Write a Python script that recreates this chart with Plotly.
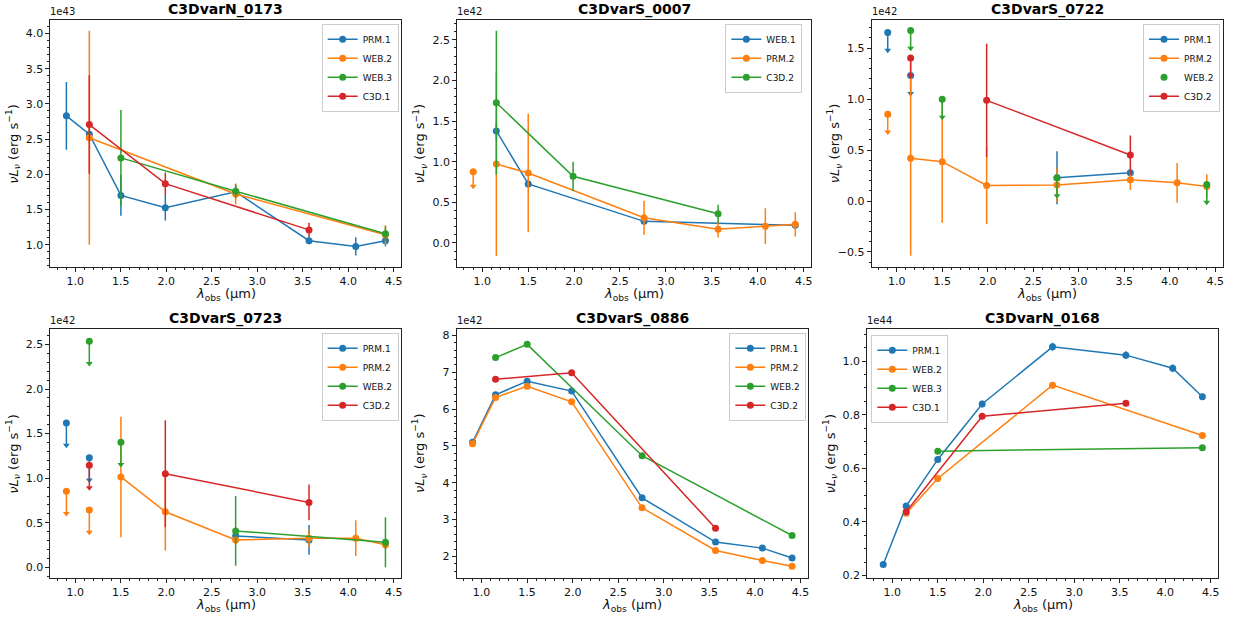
import plotly.graph_objects as go

# NIRCam filter pivot wavelengths (micron)
WAVELENGTH = [0.902, 1.154, 1.501, 1.989, 2.762, 3.568, 4.082, 4.408]
X_RANGE = [0.727, 4.583]

BLUE, ORANGE, GREEN, RED = "#1f77b4", "#ff7f0e", "#2ca02c", "#d62728"

# ---- C3DvarN_0173 (units of 1e43 erg/s) ----
N0173_PRM1 = [2.83, 2.57, 1.70, 1.525, 1.75, 1.056, 0.975, 1.056]
N0173_PRM1_ERR = [0.48, 0.10, 0.29, 0.18, 0.08, 0.05, 0.13, 0.08]
N0173_WEB2 = [None, 2.52, None, None, 1.72, None, None, 1.14]
N0173_WEB2_ERR = [None, 1.52, None, None, 0.15, None, None, 0.14]
N0173_WEB3 = [None, None, 2.233, None, 1.76, None, None, 1.155]
N0173_WEB3_ERR = [None, None, 0.68, None, 0.10, None, None, 0.10]
N0173_C3D1 = [None, 2.706, None, 1.867, None, 1.21, None, None]
N0173_C3D1_ERR = [None, 0.70, None, 0.16, None, 0.10, None, None]

# ---- C3DvarS_0007 (units of 1e42 erg/s) ----
S0007_WEB1 = [None, 1.378, 0.726, None, 0.265, None, None, 0.216]
S0007_WEB1_ERR = [None, 0.10, 0.05, None, 0.03, None, None, 0.03]
S0007_PRM2 = [None, 0.97, 0.86, None, 0.31, 0.167, 0.205, 0.228]
S0007_PRM2_ERR = [None, 1.13, 0.73, None, 0.21, 0.10, 0.22, 0.15]
S0007_PRM2_UL = [0.877, None, None, None, None, None, None, None]
S0007_C3D2 = [None, 1.725, None, 0.82, None, 0.359, None, None]
S0007_C3D2_ERR = [None, 0.885, None, 0.18, None, 0.11, None, None]
S0007_ARROW = 0.18

# ---- C3DvarS_0722 (units of 1e42 erg/s) ----
S0722_PRM1 = [None, None, None, None, 0.227, 0.276, None, None]
S0722_PRM1_ERR = [None, None, None, None, 0.26, 0.03, None, None]
S0722_PRM1_UL = [1.653, 1.23, None, None, None, None, None, None]
S0722_PRM2 = [None, 0.419, 0.386, 0.152, 0.158, 0.208, 0.178, 0.143]
S0722_PRM2_ERR = [None, 0.955, 0.60, 0.38, 0.17, 0.10, 0.195, 0.12]
S0722_PRM2_UL = [0.851, None, None, None, None, None, None, None]
S0722_WEB2_UL = [None, 1.672, 0.997, None, 0.227, None, None, 0.162]
S0722_C3D2 = [None, None, None, 0.987, None, 0.451, None, None]
S0722_C3D2_ERR = [None, None, None, 0.555, None, 0.19, None, None]
S0722_C3D2_UL = [None, 1.403, None, None, None, None, None, None]
S0722_ARROW = 0.175

# ---- C3DvarS_0723 (units of 1e42 erg/s) ----
S0723_PRM1 = [None, None, None, None, 0.353, 0.308, None, None]
S0723_PRM1_ERR = [None, None, None, None, 0.05, 0.167, None, None]
S0723_PRM1_UL = [1.62, 1.23, None, None, None, None, None, None]
S0723_PRM2 = [None, None, 1.014, 0.624, 0.308, 0.327, 0.327, 0.253]
S0723_PRM2_ERR = [None, None, 0.675, 0.435, 0.05, 0.10, 0.20, 0.05]
S0723_PRM2_UL = [0.854, 0.643, None, None, None, None, None, None]
S0723_WEB2 = [None, None, None, None, 0.409, None, None, 0.282]
S0723_WEB2_ERR = [None, None, None, None, 0.39, None, None, 0.28]
S0723_WEB2_UL = [None, 2.537, 1.404, None, None, None, None, None]
S0723_C3D2 = [None, None, None, 1.05, None, 0.728, None, None]
S0723_C3D2_ERR = [None, None, None, 0.60, None, 0.20, None, None]
S0723_C3D2_UL = [None, 1.144, None, None, None, None, None, None]
S0723_ARROW = 0.25

# ---- C3DvarS_0886 (units of 1e42 erg/s) ----
S0886_PRM1 = [5.10, 6.39, 6.76, 6.49, 3.59, 2.39, 2.225, 1.955]
S0886_PRM1_ERR = [0.04, 0.04, 0.04, 0.04, 0.04, 0.04, 0.04, 0.04]
S0886_PRM2 = [5.06, 6.32, 6.62, 6.20, 3.32, 2.16, 1.89, 1.73]
S0886_PRM2_ERR = [0.04, 0.04, 0.04, 0.04, 0.04, 0.04, 0.04, 0.04]
S0886_WEB2 = [None, 7.40, 7.76, None, 4.735, None, None, 2.567]
S0886_WEB2_ERR = [None, 0.04, 0.04, None, 0.04, None, None, 0.04]
S0886_C3D2 = [None, 6.81, None, 6.99, None, 2.765, None, None]
S0886_C3D2_ERR = [None, 0.04, None, 0.04, None, 0.04, None, None]

# ---- C3DvarN_0168 (units of 1e44 erg/s) ----
N0168_PRM1 = [0.241, 0.459, 0.633, 0.840, 1.053, 1.022, 0.973, 0.867]
N0168_PRM1_ERR = [0.006, 0.008, 0.010, 0.012, 0.015, 0.014, 0.014, 0.012]
N0168_WEB2 = [None, 0.432, 0.562, None, 0.910, None, None, 0.722]
N0168_WEB2_ERR = [None, 0.008, 0.008, None, 0.012, None, None, 0.008]
N0168_WEB3 = [None, None, 0.664, None, None, None, None, 0.677]
N0168_WEB3_ERR = [None, None, 0.006, None, None, None, None, 0.006]
N0168_C3D1 = [None, 0.438, None, 0.794, None, 0.843, None, None]
N0168_C3D1_ERR = [None, 0.008, None, 0.010, None, 0.010, None, None]

W, H = 1234, 624

# panel boxes in pixels: (left, right, top, bottom)
panels = [
    dict(name="C3DvarN_0173", power=43, box=(50.5, 401.7, 20, 268.5), yrange=[0.686, 4.194],
         dtick=0.5, minor=0.1, fmt=".1f", legend=("right", 399, 24), arrow=0,
         series=[("PRM.1", BLUE, N0173_PRM1, N0173_PRM1_ERR, None),
                 ("WEB.2", ORANGE, N0173_WEB2, N0173_WEB2_ERR, None),
                 ("WEB.3", GREEN, N0173_WEB3, N0173_WEB3_ERR, None),
                 ("C3D.1", RED, N0173_C3D1, N0173_C3D1_ERR, None)]),
    dict(name="C3DvarS_0007", power=42, box=(457.5, 812, 20, 268.5), yrange=[-0.294, 2.745],
         dtick=0.5, minor=0.1, fmt=".1f", legend=("right", 803, 24), arrow=S0007_ARROW,
         series=[("WEB.1", BLUE, S0007_WEB1, S0007_WEB1_ERR, None),
                 ("PRM.2", ORANGE, S0007_PRM2, S0007_PRM2_ERR, S0007_PRM2_UL),
                 ("C3D.2", GREEN, S0007_C3D2, S0007_C3D2_ERR, None)]),
    dict(name="C3DvarS_0722", power=42, box=(872.5, 1223.7, 20, 268.5), yrange=[-0.645, 1.776],
         dtick=0.5, minor=0.1, fmt=".1f", legend=("right", 1221, 24), arrow=S0722_ARROW,
         series=[("PRM.1", BLUE, S0722_PRM1, S0722_PRM1_ERR, S0722_PRM1_UL),
                 ("PRM.2", ORANGE, S0722_PRM2, S0722_PRM2_ERR, S0722_PRM2_UL),
                 ("WEB.2", GREEN, None, None, S0722_WEB2_UL),
                 ("C3D.2", RED, S0722_C3D2, S0722_C3D2_ERR, S0722_C3D2_UL)]),
    dict(name="C3DvarS_0723", power=42, box=(50.5, 401.7, 330.7, 581.7), yrange=[-0.119, 2.678],
         dtick=0.5, minor=0.1, fmt=".1f", legend=("right", 399, 335), arrow=S0723_ARROW,
         series=[("PRM.1", BLUE, S0723_PRM1, S0723_PRM1_ERR, S0723_PRM1_UL),
                 ("PRM.2", ORANGE, S0723_PRM2, S0723_PRM2_ERR, S0723_PRM2_UL),
                 ("WEB.2", GREEN, S0723_WEB2, S0723_WEB2_ERR, S0723_WEB2_UL),
                 ("C3D.2", RED, S0723_C3D2, S0723_C3D2_ERR, S0723_C3D2_UL)]),
    dict(name="C3DvarS_0886", power=42, box=(457, 808.7, 330.7, 581.7), yrange=[1.414, 8.189],
         dtick=1, minor=0.2, fmt="d", legend=("right", 807, 335), arrow=0,
         series=[("PRM.1", BLUE, S0886_PRM1, S0886_PRM1_ERR, None),
                 ("PRM.2", ORANGE, S0886_PRM2, S0886_PRM2_ERR, None),
                 ("WEB.2", GREEN, S0886_WEB2, S0886_WEB2_ERR, None),
                 ("C3D.2", RED, S0886_C3D2, S0886_C3D2_ERR, None)]),
    dict(name="C3DvarN_0168", power=44, box=(868, 1219.3, 330.7, 581.7), yrange=[0.191, 1.121],
         dtick=0.2, minor=0.05, fmt=".1f", legend=("left", 872, 337), arrow=0,
         series=[("PRM.1", BLUE, N0168_PRM1, N0168_PRM1_ERR, None),
                 ("WEB.2", ORANGE, N0168_WEB2, N0168_WEB2_ERR, None),
                 ("WEB.3", GREEN, N0168_WEB3, N0168_WEB3_ERR, None),
                 ("C3D.1", RED, N0168_C3D1, N0168_C3D1_ERR, None)]),
]

FONT = "DejaVu Sans"
fig = go.Figure()
annotations = []
layout = dict(width=W, height=H, margin=dict(l=0, r=0, t=0, b=0),
              paper_bgcolor="white", plot_bgcolor="white",
              font=dict(family=FONT, color="black"), showlegend=True)


def px_x(v):
    return v / W


def px_y(v):
    return 1 - v / H


for i, p in enumerate(panels, start=1):
    sfx = "" if i == 1 else str(i)
    xa, ya = "x" + sfx, "y" + sfx
    leg = "legend" + sfx
    left, right, top, bottom = p["box"]

    axis_common = dict(showline=True, linecolor="#222", linewidth=1, mirror=True,
                       ticks="outside", ticklen=4, tickwidth=1, tickcolor="#222",
                       showgrid=False, zeroline=False,
                       tickfont=dict(family=FONT, size=11, color="#111"))
    layout["xaxis" + sfx] = dict(axis_common, domain=[px_x(left), px_x(right)], anchor=ya,
                                 range=X_RANGE, tick0=0, dtick=0.5, tickformat=".1f",
                                 minor=dict(ticks="outside", ticklen=2, tickcolor="#222",
                                            dtick=0.1, tick0=0))
    layout["yaxis" + sfx] = dict(axis_common, domain=[px_y(bottom), px_y(top)], anchor=xa,
                                 range=p["yrange"], tick0=0, dtick=p["dtick"],
                                 tickformat=p["fmt"],
                                 minor=dict(ticks="outside", ticklen=2, tickcolor="#222",
                                            dtick=p["minor"], tick0=0))

    side, lx, ly = p["legend"]
    layout[leg] = dict(x=px_x(lx), y=px_y(ly), xanchor=side, yanchor="top",
                       bgcolor="rgba(255,255,255,0.8)", bordercolor="#cccccc",
                       borderwidth=1, font=dict(family=FONT, size=9, color="#111"),
                       itemwidth=30, tracegroupgap=0)

    for label, color, vals, errs, uls in p["series"]:
        has_det = vals is not None and any(v is not None for v in vals)
        if has_det:
            xs = [w for w, v in zip(WAVELENGTH, vals) if v is not None]
            ys = [v for v in vals if v is not None]
            es = [e for v, e in zip(vals, errs) if v is not None]
            fig.add_trace(go.Scatter(
                x=xs, y=ys, xaxis=xa, yaxis=ya, mode="lines+markers", name=label,
                legend=leg, line=dict(color=color, width=1.5),
                marker=dict(color=color, size=7),
                error_y=dict(type="data", array=es, visible=True, thickness=1.5,
                             width=0, color=color)))
        if uls is not None:
            ux = [w for w, u in zip(WAVELENGTH, uls) if u is not None]
            uy = [u for u in uls if u is not None]
            arrow = p["arrow"]
            fig.add_trace(go.Scatter(
                x=ux, y=uy, xaxis=xa, yaxis=ya, mode="markers", name=label,
                legend=leg, showlegend=not has_det,
                marker=dict(color=color, size=7),
                error_y=dict(type="data", symmetric=False, array=[0] * len(uy),
                             arrayminus=[arrow] * len(uy), visible=True,
                             thickness=1.5, width=0, color=color)))
            fig.add_trace(go.Scatter(
                x=ux, y=[u - arrow for u in uy], xaxis=xa, yaxis=ya, mode="markers",
                showlegend=False, hoverinfo="skip",
                marker=dict(color=color, size=6, symbol="triangle-down")))

    cx = px_x((left + right) / 2)
    cy = px_y((top + bottom) / 2)
    # panel title
    annotations.append(dict(text="<b>%s</b>" % p["name"], x=cx, y=px_y(top - 10),
                            xref="paper", yref="paper", xanchor="center", yanchor="middle",
                            showarrow=False, font=dict(family=FONT, size=14, color="black")))
    # offset multiplier
    annotations.append(dict(text="1e%d" % p["power"], x=px_x(left - 2), y=px_y(top - 1),
                            xref="paper", yref="paper", xanchor="left", yanchor="bottom",
                            showarrow=False, font=dict(family=FONT, size=10, color="#111")))
    # x label
    annotations.append(dict(text="<i>λ</i><sub>obs</sub> (μm)", x=cx, y=px_y(bottom + 28),
                            xref="paper", yref="paper", xanchor="center", yanchor="middle",
                            showarrow=False, font=dict(family=FONT, size=13, color="#111")))
    # y label
    annotations.append(dict(text="<i>νL<sub>ν</sub></i> (erg s<sup>−1</sup>)",
                            x=px_x(left - 37), y=cy, xref="paper", yref="paper",
                            xanchor="center", yanchor="middle", textangle=-90,
                            showarrow=False, font=dict(family=FONT, size=13, color="#111")))

layout["annotations"] = annotations
fig.update_layout(**layout)
fig.write_html("out.html")
